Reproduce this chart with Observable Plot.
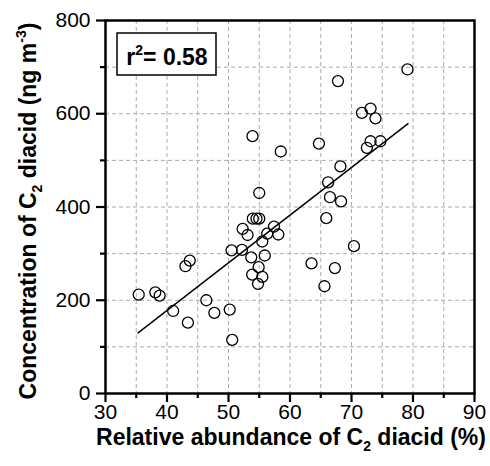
<!DOCTYPE html>
<html>
<head>
<meta charset="utf-8">
<script src="https://cdn.jsdelivr.net/npm/d3@7"></script>
<script src="https://cdn.jsdelivr.net/npm/@observablehq/plot@0.6"></script>
<style>
  html, body { margin: 0; padding: 0; background: #fff; }
  #chart svg { display: block; }
</style>
</head>
<body>
<div id="chart"></div>
<script>
// Relative abundance of C2 diacid (%)
const abundance = [
  35.4, 38.1, 38.8, 41.0, 43.4, 43.0, 43.7, 46.4, 47.7, 50.2,
  50.6, 50.5, 52.2, 52.3, 53.1, 53.95, 54.55, 55.0, 53.7, 53.85,
  54.9, 55.5, 54.8, 55.9, 55.5, 56.3, 57.4, 58.1,
  67.8, 79.1, 71.7, 73.1, 73.9, 64.7, 73.1, 72.5, 74.7, 68.2,
  66.2, 66.5, 68.3,
  53.9, 58.5, 55.0,
  65.9, 70.4, 63.5, 67.3, 65.6
];
// Concentration of C2 diacid (ng m-3)
const concentration = [
  212, 217, 210, 177, 152, 273, 285, 200, 173, 180,
  115, 307, 308, 353, 340, 375, 375, 375, 292, 255,
  271, 250, 235, 296, 326, 343, 358, 341,
  670, 695, 602, 611, 590, 536, 541, 527, 541, 487,
  453, 421, 412,
  552, 519, 430,
  376, 316, 279, 269, 230
];
// Linear fit
const fitX = [35.3, 79.2];
const fitSlope = 10.22;
const fitIntercept = -230.8;
const r2Label = "0.58";

const xMajor = [30, 40, 50, 60, 70, 80, 90];
const xMinor = [35, 45, 55, 65, 75, 85];
const yMajor = [0, 200, 400, 600, 800];
const yMinor = [100, 300, 500, 700];
const xGrid = [35, 40, 45, 50, 55, 60, 65, 70, 75, 80, 85];
const yGrid = [100, 200, 300, 400, 500, 600, 700];

const points = abundance.map((x, i) => ({x, y: concentration[i]}));
const fit = fitX.map(x => ({x, y: fitSlope * x + fitIntercept}));

const FONT = "Liberation Sans, Arial, Helvetica, sans-serif";

const plot = Plot.plot({
  width: 490,
  height: 466,
  marginLeft: 105,
  marginRight: 16,
  marginTop: 20,
  marginBottom: 73,
  style: {fontFamily: FONT, background: "#fff", color: "#000"},
  x: {domain: [30, 90]},
  y: {domain: [0, 800]},
  marks: [
    Plot.gridX(xGrid, {stroke: "#aaa", strokeOpacity: 1, strokeDasharray: "4,3", strokeWidth: 1}),
    Plot.gridY(yGrid, {stroke: "#aaa", strokeOpacity: 1, strokeDasharray: "4,3", strokeWidth: 1}),
    Plot.axisX(xMajor, {tickSize: 9, tickPadding: 2, fontSize: 21, strokeWidth: 2.2, label: null, tickFormat: d => String(d)}),
    Plot.axisX(xMinor, {tickSize: 5, strokeWidth: 2.2, label: null, tickFormat: () => ""}),
    Plot.axisY(yMajor, {tickSize: 9, tickPadding: 6, fontSize: 21, strokeWidth: 2.2, label: null, tickFormat: d => String(d)}),
    Plot.axisY(yMinor, {tickSize: 5, strokeWidth: 2.2, label: null, tickFormat: () => ""}),
    Plot.line(fit, {x: "x", y: "y", stroke: "#000", strokeWidth: 1.5}),
    Plot.dot(points, {x: "x", y: "y", r: 5.5, stroke: "#000", strokeWidth: 1.3, fill: "none"}),
    Plot.frame({stroke: "#000", strokeWidth: 2.5})
  ]
});

document.getElementById("chart").appendChild(plot);

// Axis titles with sub/superscripts, and the r² box
const svg = d3.select(plot);

const xt = svg.append("text")
  .attr("x", 291).attr("y", 445)
  .attr("text-anchor", "middle")
  .attr("font-family", FONT).attr("font-weight", "bold").attr("font-size", 23).attr("fill", "#000");
xt.append("tspan").text("Relative abundance of C");
xt.append("tspan").attr("font-size", 14).attr("dy", 6).text("2");
xt.append("tspan").attr("dy", -6).text(" diacid (%)");

const yt = svg.append("text")
  .attr("transform", `translate(36,211) rotate(-90)`)
  .attr("text-anchor", "middle")
  .attr("font-family", FONT).attr("font-weight", "bold").attr("font-size", 23).attr("fill", "#000");
yt.append("tspan").text("Concentration of C");
yt.append("tspan").attr("font-size", 14).attr("dy", 6).text("2");
yt.append("tspan").attr("dy", -6).text(" diacid (ng m");
yt.append("tspan").attr("font-size", 14).attr("dy", -10).text("-3");
yt.append("tspan").attr("dy", 10).text(")");

svg.append("rect")
  .attr("x", 117).attr("y", 33).attr("width", 99).attr("height", 42)
  .attr("fill", "#fff").attr("stroke", "#000").attr("stroke-width", 1.5);
const rt = svg.append("text")
  .attr("x", 167).attr("y", 65)
  .attr("text-anchor", "middle")
  .attr("font-family", FONT).attr("font-weight", "bold").attr("font-size", 23).attr("fill", "#000");
rt.append("tspan").text("r");
rt.append("tspan").attr("font-size", 14).attr("dy", -10).text("2");
rt.append("tspan").attr("dy", 10).text("= " + r2Label);
</script>
</body>
</html>
